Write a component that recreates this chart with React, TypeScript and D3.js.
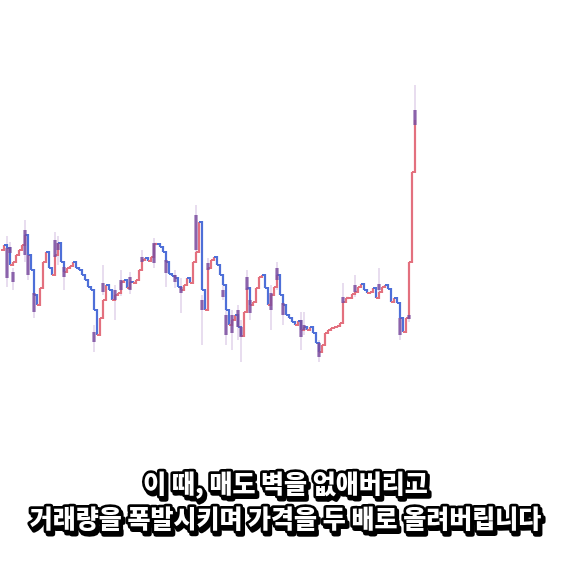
import React from "react";
import * as d3 from "d3";

// Close prices of every bar (one bar per step)
const closes: number[] = [
  2300, 2350, 2320, 2150, 2180, 2250, 2300, 2350, 2450, 2250,
  2100, 1850, 1750, 1920, 2180, 2280, 2120, 2050, 2250, 2370,
  2180, 2080, 2120, 2140, 2180, 2120, 2100, 2050, 2000, 1930,
  1900, 1700, 1450, 1620, 1800, 1950, 1900, 1800, 1850, 1870,
  1980, 2000, 1920, 1980, 1970, 2000, 2100, 2200, 2220, 2190,
  2230, 2360, 2360, 2330, 2280, 2180, 2060, 2040, 2020, 1930,
  1900, 1950, 2020, 1970, 2180, 2280, 2580, 1900, 1700, 2120,
  2200, 2230, 2150, 2050, 1950, 1700, 1550, 1600, 1650, 1530,
  1440, 1680, 1920, 1750, 1780, 1920, 2030, 2050, 1920, 1750,
  1850, 1930, 2050, 1850, 1750, 1650, 1620, 1580, 1550, 1590,
  1500, 1530, 1500, 1530, 1470, 1370, 1280, 1350, 1470, 1500,
  1520, 1530, 1540, 1570, 1780, 1820, 1820, 1860, 1880, 1930,
  1960, 1900, 1870, 1880, 1920, 1820, 1880, 1930, 1950, 1910,
  1780, 1820, 1770, 1620, 1480, 1620, 2180, 3080, 3600,
];

// Visible candles: bar index, open, close, high, low
const candleIdx: number[] = [2, 3, 4, 8, 9, 11, 18, 19, 21, 31, 34, 38, 40, 43, 47, 51, 55, 58, 60, 65, 67, 69, 74, 75, 77, 79, 80, 82, 83, 90, 92, 94, 100, 101, 106, 114, 118, 126, 133, 136, 138];
const candleOpen: number[] = [2020, 2330, 2080, 2500, 2250, 1870, 2400, 2300, 2130, 1480, 1970, 1900, 2000, 2030, 2230, 2370, 2200, 2050, 1930, 2650, 1800, 2170, 1900, 1650, 1650, 1700, 1530, 2030, 1800, 1870, 2120, 1770, 1600, 1500, 1370, 1830, 1950, 1960, 1620, 1610, 3700];
const candleClose: number[] = [2320, 2270, 1980, 2250, 2050, 1680, 2230, 2370, 2030, 1380, 1880, 1800, 1900, 1900, 2180, 2170, 2070, 1980, 1870, 2300, 1700, 2100, 1830, 1450, 1470, 1530, 1430, 1900, 1670, 1700, 2000, 1650, 1430, 1550, 1230, 1770, 1880, 1900, 1450, 1650, 3550];
const candleHigh: number[] = [2440, 2380, 2120, 2600, 2300, 1920, 2480, 2440, 2180, 1550, 2150, 1950, 2100, 2080, 2300, 2420, 2250, 2100, 2020, 2750, 1850, 2220, 1950, 1700, 1700, 1750, 1600, 2100, 1850, 1950, 2180, 1850, 1680, 1680, 1400, 1970, 2050, 2120, 1680, 1700, 3950];
const candleLow: number[] = [1930, 2220, 1900, 2180, 2000, 1620, 2180, 2150, 1900, 1280, 1850, 1600, 1840, 1860, 2120, 2120, 1930, 1920, 1670, 2250, 1350, 2050, 1800, 1350, 1300, 1400, 1180, 1850, 1600, 1500, 1900, 1550, 1300, 1450, 1180, 1730, 1830, 1850, 1400, 1580, 3450];

const subtitle1 = "이 때, 매도 벽을 없애버리고";
const subtitle2 = "거래량을 폭발시키며 가격을 두 배로 올려버립니다";

const W = 571;
const H = 571;

export default function App() {
  const x = d3.scaleLinear().domain([0, closes.length - 1]).range([1, 415]);
  const y = d3.scaleLinear().domain([0, 4800]).range([480, 0]);

  const UP = "#e3707e";
  const DOWN = "#4e6fd8";
  const BODY = "#7a4c9f";
  const WICK = "#dccbe6";

  const segs = closes.slice(0, -1).map((c, i) => {
    const n = closes[i + 1];
    const p = d3.path();
    p.moveTo(x(i), y(c));
    p.lineTo(x(i + 1), y(c));
    p.lineTo(x(i + 1), y(n));
    return { d: p.toString(), color: n >= c ? UP : DOWN };
  });

  const textStyle: React.CSSProperties = {
    fontFamily: "'Noto Sans CJK KR', 'Noto Sans', sans-serif",
    fontWeight: 900,
    fontSize: 25,
  };

  const renderSub = (t: string, cy: number) => (
    <text x={W / 2} y={cy} textAnchor="middle" style={textStyle}
      fill="#fff" stroke="#000" strokeWidth={5.5} strokeLinejoin="round"
      paintOrder="stroke" filter="url(#subShadow)">{t}</text>
  );

  return (
    <svg width={W} height={H} viewBox={`0 0 ${W} ${H}`}
      style={{ position: "absolute", left: 0, top: 0, background: "#fff", display: "block" }}>
      <defs>
        <filter id="subShadow" x="-5%" y="-30%" width="115%" height="170%">
          <feOffset in="SourceAlpha" dx="2" dy="3" result="off" />
          <feFlood floodColor="#000" result="blk" />
          <feComposite in="blk" in2="off" operator="in" result="shadow" />
          <feMerge>
            <feMergeNode in="shadow" />
            <feMergeNode in="SourceGraphic" />
          </feMerge>
        </filter>
      </defs>
      <rect width={W} height={H} fill="#fff" />
      {candleIdx.map((ci, k) => (
        <line key={"w" + k} x1={x(ci)} x2={x(ci)} y1={y(candleHigh[k])} y2={y(candleLow[k])}
          stroke={WICK} strokeWidth={1.3} />
      ))}
      {segs.map((s, i) => (
        <path key={"s" + i} d={s.d} fill="none" stroke={s.color} strokeWidth={2.2} strokeLinejoin="miter" />
      ))}
      {candleIdx.map((ci, k) => {
        const top = y(Math.max(candleOpen[k], candleClose[k]));
        const bot = y(Math.min(candleOpen[k], candleClose[k]));
        return (
          <rect key={"b" + k} x={x(ci) - 1.6} width={3.2} y={top} height={Math.max(1, bot - top)}
            fill={BODY} opacity={0.85} />
        );
      })}
      {renderSub(subtitle1, 493)}
      {renderSub(subtitle2, 528)}
    </svg>
  );
}
